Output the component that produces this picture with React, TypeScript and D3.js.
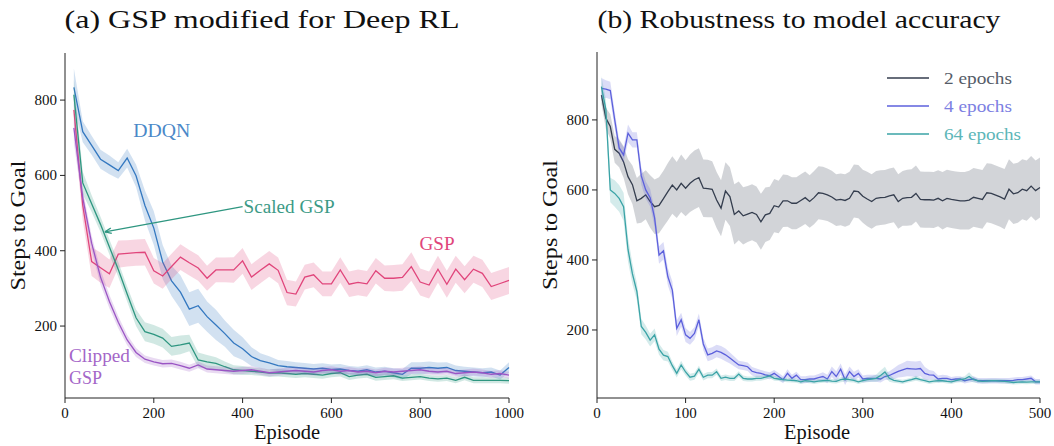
import React from "react";
import * as d3 from "d3";

// ---- panel (a) data: episodes 20..1000 every 20 ----
const epA = d3.range(20, 1001, 20);

const ddqnMean = [834, 716, 680, 643, 628, 613, 646, 599, 520, 460, 370, 320, 290, 245, 254, 225, 203, 180, 155, 140,
  119, 108, 102, 95, 92, 90, 88, 86, 88, 85, 86, 82, 80, 84, 78, 80, 76, 72, 88, 88,
  90, 88, 90, 82, 80, 78, 76, 78, 70, 90];
const ddqnSpread = [50, 28, 25, 25, 25, 22, 25, 30, 40, 45, 45, 40, 45, 45, 45, 40, 40, 35, 35, 30,
  25, 20, 18, 15, 15, 14, 14, 13, 13, 13, 13, 12, 12, 12, 12, 12, 12, 14, 16, 16,
  16, 15, 14, 13, 12, 12, 12, 12, 12, 14];

const gspMean = [774, 520, 371, 355, 339, 391, 393, 395, 396, 347, 333, 358, 383, 368, 354, 327, 349, 349, 349, 373,
  330, 348, 365, 348, 289, 285, 330, 336, 312, 312, 349, 311, 316, 312, 347, 327, 327, 329, 358, 317,
  309, 351, 311, 351, 323, 351, 340, 305, 313, 321];
const gspSpread = [40, 40, 38, 40, 38, 36, 35, 35, 35, 34, 34, 34, 34, 34, 34, 33, 33, 33, 34, 34,
  34, 34, 34, 34, 34, 33, 33, 33, 33, 33, 34, 34, 34, 34, 34, 34, 35, 35, 38, 36,
  36, 36, 36, 36, 36, 36, 36, 36, 36, 36];

const scaledMean = [814, 580, 525, 470, 410, 350, 285, 222, 185, 178, 168, 146, 150, 155, 110, 105, 101, 92, 84, 82,
  80, 78, 75, 76, 74, 72, 74, 72, 70, 74, 76, 66, 70, 72, 64, 66, 68, 62, 64, 66,
  62, 60, 62, 56, 64, 56, 56, 56, 56, 55];
const scaledSpread = [40, 30, 22, 20, 20, 20, 20, 22, 25, 25, 25, 25, 25, 22, 20, 18, 16, 14, 12, 12,
  10, 10, 10, 10, 10, 10, 10, 10, 10, 10, 10, 9, 9, 9, 9, 9, 9, 8, 8, 8,
  8, 8, 8, 8, 8, 8, 8, 8, 8, 8];

const clippedMean = [726, 540, 420, 330, 265, 210, 163, 130, 112, 105, 100, 101, 95, 88, 97, 86, 84, 82, 80, 82,
  84, 80, 76, 78, 80, 82, 80, 78, 82, 84, 80, 82, 78, 80, 76, 80, 78, 80, 82, 84,
  80, 78, 80, 74, 76, 78, 76, 72, 74, 70];
const clippedSpread = [40, 22, 20, 20, 18, 16, 14, 12, 10, 10, 10, 10, 10, 9, 9, 9, 9, 9, 9, 9,
  9, 9, 9, 9, 9, 9, 9, 9, 9, 9, 9, 9, 9, 9, 9, 9, 9, 9, 9, 9,
  9, 9, 9, 9, 9, 9, 9, 9, 9, 9];

// ---- panel (b) data: episodes 5..500 every 5 ----
const epB = d3.range(5, 501, 5);

const ep2Mean = [871, 805, 781, 716, 705, 680, 638, 615, 569, 576, 586, 567, 552, 556, 575, 595, 614, 600, 619, 605,
  619, 629, 635, 605, 604, 602, 571, 548, 597, 581, 530, 540, 526, 531, 536, 530, 509, 529, 533, 555,
  551, 569, 569, 562, 562, 570, 578, 567, 578, 592, 590, 586, 580, 571, 573, 570, 576, 597, 595, 582,
  574, 567, 576, 578, 579, 583, 586, 567, 576, 578, 579, 590, 573, 572, 572, 571, 576, 569, 576, 573,
  571, 569, 569, 571, 579, 576, 573, 592, 590, 585, 580, 574, 602, 589, 592, 602, 598, 611, 598, 607];
const ep2Spread = [25, 30, 35, 38, 40, 45, 50, 55, 65, 70, 70, 75, 78, 80, 80, 82, 82, 80, 82, 80,
  82, 84, 84, 82, 82, 80, 80, 80, 82, 84, 86, 84, 82, 80, 80, 80, 80, 78, 76, 76,
  75, 75, 74, 74, 74, 75, 75, 75, 76, 76, 76, 75, 75, 74, 74, 75, 76, 76, 76, 76,
  78, 78, 78, 78, 78, 78, 78, 78, 78, 80, 80, 80, 80, 80, 80, 80, 80, 82, 82, 82,
  82, 82, 82, 84, 84, 84, 84, 84, 85, 85, 85, 86, 86, 86, 86, 86, 86, 86, 86, 86];

const ep4Mean = [890, 888, 884, 800, 720, 700, 762, 743, 743, 640, 600, 578, 520, 414, 426, 352, 314, 205, 229, 186,
  176, 190, 229, 160, 129, 133, 140, 136, 129, 120, 110, 100, 98, 95, 82, 78, 76, 72, 69, 76,
  67, 58, 76, 62, 71, 58, 58, 60, 60, 64, 67, 60, 81, 67, 88, 58, 81, 67, 76, 60,
  62, 62, 62, 60, 67, 70, 76, 82, 86, 90, 89, 88, 90, 76, 72, 71, 60, 62, 62, 58,
  60, 60, 55, 58, 60, 55, 55, 55, 55, 55, 55, 55, 55, 56, 58, 58, 60, 62, 52, 52];
const ep4Spread = [30, 25, 25, 25, 22, 22, 25, 22, 22, 25, 25, 25, 25, 25, 25, 25, 25, 22, 20, 20,
  18, 18, 18, 18, 18, 18, 18, 18, 18, 16, 14, 12, 12, 12, 12, 12, 10, 10, 10, 10,
  10, 10, 12, 10, 10, 10, 10, 10, 10, 10, 12, 12, 15, 15, 16, 15, 15, 14, 12, 10,
  10, 10, 10, 10, 10, 12, 15, 18, 20, 22, 22, 22, 22, 18, 14, 12, 10, 10, 9, 8,
  8, 8, 8, 8, 8, 8, 8, 8, 8, 8, 8, 8, 8, 8, 8, 8, 8, 8, 8, 8];

const ep64Mean = [895, 830, 600, 590, 576, 552, 430, 360, 310, 210, 193, 171, 186, 145, 128, 124, 98, 76, 100, 80,
  65, 68, 88, 65, 71, 71, 81, 62, 65, 62, 62, 74, 62, 60, 60, 62, 62, 65, 69, 62,
  60, 58, 57, 56, 55, 52, 55, 54, 52, 54, 55, 56, 54, 53, 58, 60, 58, 56, 52, 55,
  58, 60, 62, 70, 80, 62, 56, 54, 52, 55, 58, 62, 58, 55, 52, 54, 55, 55, 53, 52,
  55, 58, 60, 67, 58, 55, 53, 54, 55, 55, 54, 53, 52, 50, 51, 52, 51, 52, 52, 52];
const ep64Spread = [30, 30, 35, 38, 38, 40, 35, 30, 25, 22, 20, 18, 18, 16, 15, 14, 12, 12, 12, 10,
  10, 10, 10, 9, 9, 9, 9, 8, 8, 8, 8, 8, 8, 7, 7, 7, 7, 7, 7, 7,
  6, 6, 6, 6, 6, 6, 6, 6, 6, 6, 6, 6, 6, 6, 7, 7, 7, 6, 6, 6,
  7, 8, 10, 14, 15, 10, 7, 6, 6, 6, 6, 7, 6, 6, 6, 6, 6, 6, 6, 6,
  6, 7, 8, 12, 8, 6, 6, 6, 6, 6, 6, 6, 6, 6, 6, 6, 6, 6, 6, 6];

const xTicksA = [0, 200, 400, 600, 800, 1000];
const xTicksB = [0, 100, 200, 300, 400, 500];
const yTicks = [200, 400, 600, 800];

const FONT = "'Liberation Serif', 'DejaVu Serif', serif";

type Series = { name: string; mean: number[]; spread: number[]; color: string };

const seriesA: Series[] = [
  { name: "DDQN", mean: ddqnMean, spread: ddqnSpread, color: "#3478c0" },
  { name: "GSP", mean: gspMean, spread: gspSpread, color: "#e0457b" },
  { name: "Scaled GSP", mean: scaledMean, spread: scaledSpread, color: "#2e9680" },
  { name: "Clipped GSP", mean: clippedMean, spread: clippedSpread, color: "#9a55c4" },
];

const seriesB: Series[] = [
  { name: "2 epochs", mean: ep2Mean, spread: ep2Spread, color: "#343d4e" },
  { name: "4 epochs", mean: ep4Mean, spread: ep4Spread, color: "#5c60dc" },
  { name: "64 epochs", mean: ep64Mean, spread: ep64Spread, color: "#3aa3a6" },
];
const legendText = ["#555c68", "#7c80e2", "#5cb6b8"];
const legendLen = [68, 68, 77];

// stretched serif text, to approximate the wider Computer Modern look
function T({ len, children, ...rest }: any) {
  return (
    <text fontFamily={FONT} textLength={len} lengthAdjust="spacingAndGlyphs" {...rest}>
      {children}
    </text>
  );
}

function Panel({ x, y, eps, series, xTicks, title, titleX, titleLen, xlabX }: any) {
  const [x0, x1] = x.range();
  const [y0, y1] = y.range();
  const line = (s: Series) =>
    d3.line<number>().x((_, i) => x(eps[i])).y((d) => y(d))(s.mean) || "";
  const area = (s: Series) =>
    d3
      .area<number>()
      .x((_, i) => x(eps[i]))
      .y0((d, i) => y(d - s.spread[i]))
      .y1((d, i) => y(d + s.spread[i]))(s.mean) || "";
  return (
    <g>
      <T x={titleX} y={28} len={titleLen} textAnchor="middle" fontSize={26} fill="#111">
        {title}
      </T>
      {series.map((s: Series) => (
        <g key={s.name}>
          <path d={area(s)} fill={s.color} fillOpacity={0.22} stroke="none" />
          <path d={line(s)} fill="none" stroke={s.color} strokeWidth={1.3} />
        </g>
      ))}
      <line x1={x0} x2={x0} y1={y0} y2={y1} stroke="#222" strokeWidth={1} />
      <line x1={x0} x2={x1} y1={y0} y2={y0} stroke="#222" strokeWidth={1} />
      {xTicks.map((t: number) => (
        <g key={"x" + t}>
          <line x1={x(t)} x2={x(t)} y1={y0} y2={y0 + 5} stroke="#222" />
          <text x={x(t)} y={y0 + 20} textAnchor="middle" fontSize={15} fontFamily={FONT} fill="#111">
            {t}
          </text>
        </g>
      ))}
      {yTicks.map((t: number) => (
        <g key={"y" + t}>
          <line x1={x0 - 5} x2={x0} y1={y(t)} y2={y(t)} stroke="#222" />
          <text x={x0 - 8} y={y(t) + 5} textAnchor="end" fontSize={15} fontFamily={FONT} fill="#111">
            {t}
          </text>
        </g>
      ))}
      <T x={xlabX} y={439} len={66} textAnchor="middle" fontSize={22} fill="#111">
        Episode
      </T>
      <T
        transform={`translate(${x0 - 40},${(y0 + y1) / 2}) rotate(-90)`}
        len={130}
        textAnchor="middle"
        fontSize={22}
        fill="#111"
      >
        Steps to Goal
      </T>
    </g>
  );
}

export default function App() {
  const xA = d3.scaleLinear().domain([0, 1000]).range([65, 509]);
  const yA = d3.scaleLinear().domain([9, 925]).range([398, 53]);
  const xB = d3.scaleLinear().domain([0, 500]).range([597, 1040]);
  const yB = d3.scaleLinear().domain([5.7, 994]).range([398, 52]);

  // annotation arrow for Scaled GSP (data coords)
  const ax0 = xA(400), ay0 = yA(517);
  const ax1 = xA(90), ay1 = yA(450);
  const ang = Math.atan2(ay1 - ay0, ax1 - ax0);
  const hl = 7;
  const head = [ang + Math.PI - 0.4, ang + Math.PI + 0.4].map((a) => [ax1 + hl * Math.cos(a), ay1 + hl * Math.sin(a)]);

  const lblFs = 18;
  return (
    <svg width={1054} height={446} style={{ position: "absolute", left: 0, top: 0, background: "#fff" }}>
      <Panel x={xA} y={yA} eps={epA} series={seriesA} xTicks={xTicksA} title="(a) GSP modified for Deep RL"
        titleX={262} titleLen={395} xlabX={287} />
      <Panel x={xB} y={yB} eps={epB} series={seriesB} xTicks={xTicksB} title="(b) Robustness to model accuracy"
        titleX={799} titleLen={403} xlabX={817} />

      {/* panel (a) labels */}
      <T x={xA(218)} y={yA(718) + 6} len={57} textAnchor="middle" fontSize={lblFs} fill="#4a88c8">
        DDQN
      </T>
      <T x={xA(838)} y={yA(418) + 6} len={35} textAnchor="middle" fontSize={lblFs} fill="#e0457b">
        GSP
      </T>
      <line x1={ax0} y1={ay0} x2={ax1} y2={ay1} stroke="#2e9680" strokeWidth={1.3} />
      {head.map((p, i) => (
        <line key={i} x1={ax1} y1={ay1} x2={p[0]} y2={p[1]} stroke="#2e9680" strokeWidth={1.3} />
      ))}
      <T x={ax0 + 1} y={ay0 + 6} len={91} textAnchor="start" fontSize={lblFs} fill="#3c9a86">
        Scaled GSP
      </T>
      <T x={xA(9)} y={yA(121) + 6} len={61} textAnchor="start" fontSize={lblFs} fill="#a466c8">
        Clipped
      </T>
      <T x={xA(9)} y={yA(62) + 6} len={33} textAnchor="start" fontSize={lblFs} fill="#a466c8">
        GSP
      </T>

      {/* panel (b) legend */}
      {seriesB.map((s, i) => (
        <g key={s.name}>
          <line x1={887} x2={929} y1={78 + i * 28} y2={78 + i * 28} stroke={s.color} strokeWidth={1.4} />
          <T x={944} y={78 + i * 28 + 6} len={legendLen[i]} fontSize={17} fill={legendText[i]}>
            {s.name}
          </T>
        </g>
      ))}
    </svg>
  );
}
